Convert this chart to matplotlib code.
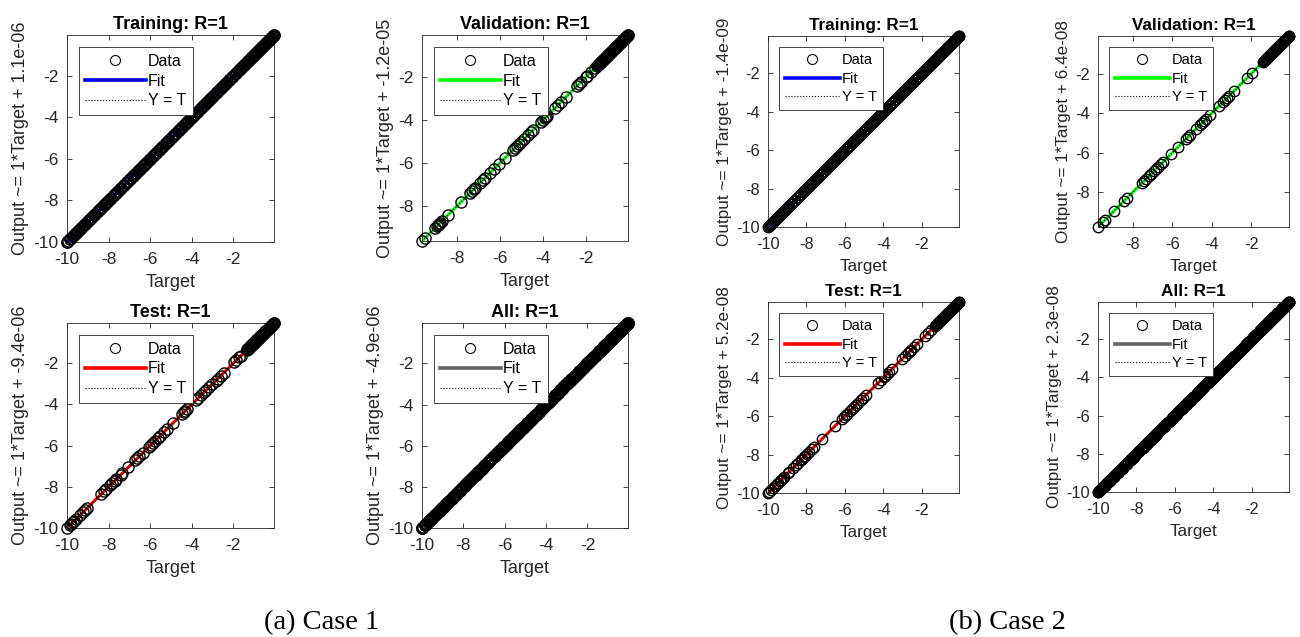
import numpy as np
import matplotlib
matplotlib.use("Agg")
import matplotlib.pyplot as plt
from matplotlib.lines import Line2D
from matplotlib.ticker import MultipleLocator

plt.rcParams['font.family'] = ['Liberation Sans', 'DejaVu Sans']
plt.rcParams['axes.unicode_minus'] = False

# ---------------- Case 1 targets (network outputs equal targets, R = 1) ----------------
train_t1 = [
    -10.00, -9.94, -9.87, -9.80, -9.71, -9.63, -9.57, -9.48, -9.41, -9.36, -9.27, -9.19,
    -9.12, -9.03, -8.96, -8.90, -8.80, -8.72, -8.66, -8.57, -8.48, -8.43, -8.34, -8.24,
    -8.18, -8.11, -8.02, -7.94, -7.88, -7.78, -7.69, -7.63, -7.54, -7.47, -7.41, -7.31,
    -7.24, -7.17, -7.07, -6.99, -6.94, -6.85, -6.76, -6.71, -6.61, -6.52, -6.46, -6.37,
    -6.29, -6.23, -6.14, -6.06, -6.00, -5.91, -5.84, -5.78, -5.68, -5.60, -5.55, -5.44,
    -5.37, -5.31, -5.21, -5.14, -5.08, -4.98, -4.91, -4.85, -4.75, -4.68, -4.62, -4.53,
    -4.45, -4.40, -4.30, -4.22, -4.17, -4.07, -3.99, -3.94, -3.84, -3.76, -3.70, -3.62,
    -3.52, -3.47, -3.39, -3.31, -3.24, -3.16, -3.07, -3.01, -2.92, -2.86, -2.78, -2.69,
    -2.61, -2.55, -2.46, -2.39, -2.32, -2.23, -2.16, -2.09, -2.00, -1.93, -1.87, -1.77,
    -1.70, -1.64, -1.55, -1.47, -1.42, -1.35, -1.28, -1.23, -1.20, -1.17, -1.14, -1.11,
    -1.08, -1.05, -1.02, -0.99, -0.96, -0.93, -0.90, -0.87, -0.84, -0.81, -0.78, -0.75,
    -0.72, -0.69, -0.66, -0.63, -0.60, -0.57, -0.54, -0.51, -0.48, -0.45, -0.42, -0.39,
    -0.36, -0.33, -0.30, -0.27, -0.24, -0.21, -0.18, -0.15, -0.12, -0.09, -0.06, -0.05,
    -9.98, -9.84, -9.67, -9.52, -9.32, -9.15, -8.99, -8.85, -8.69, -8.53, -8.38, -8.21,
    -8.06, -7.91, -7.74, -7.58, -7.44, -7.28, -7.12, -6.96, -6.81, -6.66, -6.49, -6.33,
    -6.18, -6.03, -5.88, -5.73, -5.57, -5.41, -5.25, -5.11, -4.94, -4.79, -4.64, -4.49,
    -4.34, -4.19, -4.03, -3.88, -3.73, -3.57, -3.43, -3.27, -3.12, -2.96, -2.81, -2.65,
    -2.50, -2.35, -2.19, -2.05, -1.90, -1.74, -1.59, -1.45, -1.31,
]
val_t1 = [
    -9.64, -9.52, -9.05, -8.92, -8.88, -8.83, -8.78, -8.72, -8.45, -7.82, -7.38, -7.30,
    -7.22, -7.15, -6.95, -6.82, -6.72, -6.48, -6.28, -6.05, -5.78, -5.42, -5.32, -5.22,
    -5.12, -5.02, -4.88, -4.72, -4.55, -4.45, -4.08, -3.98, -3.92, -3.86, -3.80, -3.42,
    -3.28, -3.18, -2.92, -2.42, -2.32, -2.22, -2.02, -1.95, -1.78, -1.58, -1.48, -1.43,
    -1.40, -1.37, -1.34, -1.31, -1.28, -1.25, -1.22, -1.19, -1.16, -1.13, -1.10, -1.07,
    -1.04, -1.01, -0.98, -0.95, -0.92, -0.89, -0.86, -0.83, -0.80, -0.77, -0.74, -0.71,
    -0.68, -0.65, -0.62, -0.59, -0.56, -0.53, -0.50, -0.47, -0.44, -0.41, -0.38, -0.35,
    -0.32, -0.29, -0.26, -0.23, -0.20, -0.17, -0.14, -0.11, -0.08, -0.05, -0.04,
]
test_t1 = [
    -10.00, -9.86, -9.79, -9.71, -9.64, -9.56, -9.36, -9.21, -9.12, -9.03, -8.36, -8.21,
    -8.12, -7.91, -7.82, -7.71, -7.63, -7.41, -7.34, -7.05, -6.71, -6.62, -6.52, -6.36,
    -6.06, -5.96, -5.86, -5.76, -5.62, -5.52, -5.36, -5.21, -4.92, -4.46, -4.36, -4.31,
    -4.23, -3.81, -3.71, -3.56, -3.42, -3.31, -3.16, -3.02, -2.86, -2.76, -2.61, -2.46,
    -1.96, -1.86, -1.71, -1.64, -1.36, -1.33, -1.30, -1.27, -1.24, -1.21, -1.18, -1.15,
    -1.12, -1.09, -1.06, -1.03, -1.00, -0.97, -0.94, -0.91, -0.88, -0.85, -0.82, -0.79,
    -0.76, -0.73, -0.70, -0.67, -0.64, -0.61, -0.58, -0.55, -0.52, -0.49, -0.46, -0.43,
    -0.40, -0.37, -0.34, -0.31, -0.28, -0.25, -0.22, -0.19, -0.16, -0.13, -0.10, -0.07,
    -0.05,
]

# ---------------- Case 2 targets ----------------
train_t2 = [
    -10.00, -9.92, -9.86, -9.78, -9.70, -9.64, -9.55, -9.47, -9.42, -9.33, -9.25, -9.19,
    -9.10, -9.02, -8.97, -8.88, -8.80, -8.74, -8.65, -8.57, -8.51, -8.42, -8.35, -8.29,
    -8.20, -8.12, -8.06, -7.97, -7.90, -7.84, -7.75, -7.67, -7.61, -7.52, -7.45, -7.39,
    -7.30, -7.22, -7.16, -7.07, -7.00, -6.94, -6.85, -6.77, -6.71, -6.62, -6.55, -6.49,
    -6.40, -6.32, -6.26, -6.17, -6.10, -6.04, -5.95, -5.87, -5.81, -5.72, -5.65, -5.59,
    -5.50, -5.42, -5.36, -5.27, -5.20, -5.14, -5.05, -4.97, -4.91, -4.82, -4.75, -4.69,
    -4.60, -4.52, -4.46, -4.37, -4.30, -4.24, -4.15, -4.07, -4.01, -3.92, -3.85, -3.79,
    -3.70, -3.62, -3.56, -3.47, -3.40, -3.34, -3.25, -3.17, -3.11, -3.02, -2.95, -2.89,
    -2.80, -2.72, -2.66, -2.57, -2.50, -2.44, -2.35, -2.27, -2.21, -2.12, -2.05, -1.99,
    -1.90, -1.82, -1.76, -1.67, -1.60, -1.54, -1.46, -1.41, -1.38, -1.35, -1.32, -1.29,
    -1.26, -1.23, -1.20, -1.17, -1.14, -1.11, -1.08, -1.05, -1.02, -0.99, -0.96, -0.93,
    -0.90, -0.87, -0.84, -0.81, -0.78, -0.75, -0.72, -0.69, -0.66, -0.63, -0.60, -0.57,
    -0.54, -0.51, -0.48, -0.45, -0.42, -0.39, -0.36, -0.33, -0.30, -0.27, -0.24, -0.21,
    -0.18, -0.15, -0.12, -0.09, -0.06, -0.05,
    -9.96, -9.82, -9.67, -9.51, -9.37, -9.22, -9.06, -8.92, -8.77, -8.61, -8.47, -8.32,
    -8.16, -8.01, -7.87, -7.71, -7.56, -7.42, -7.26, -7.11, -6.97, -6.81, -6.66, -6.52,
    -6.36, -6.21, -6.07, -5.91, -5.76, -5.62, -5.46, -5.31, -5.17, -5.01, -4.86, -4.72,
    -4.56, -4.41, -4.27, -4.11, -3.96, -3.82, -3.66, -3.51, -3.37, -3.21, -3.06, -2.92,
    -2.76, -2.61, -2.47, -2.31, -2.16, -2.02, -1.86, -1.71, -1.57, -1.43,
]
val_t2 = [
    -9.75, -9.52, -9.38, -8.95, -8.42, -8.28, -7.55, -7.45, -7.32, -7.18, -7.05, -6.92,
    -6.82, -6.70, -6.58, -6.45, -6.08, -5.72, -5.30, -5.18, -5.10, -4.78, -4.62, -4.50,
    -4.40, -4.28, -4.10, -3.62, -3.45, -3.32, -3.22, -3.12, -2.88, -2.20, -1.95, -1.40,
    -1.37, -1.34, -1.31, -1.28, -1.25, -1.22, -1.19, -1.16, -1.13, -1.10, -1.07, -1.04,
    -1.01, -0.98, -0.95, -0.92, -0.89, -0.86, -0.83, -0.80, -0.77, -0.74, -0.71, -0.68,
    -0.65, -0.62, -0.59, -0.56, -0.53, -0.50, -0.47, -0.44, -0.41, -0.38, -0.35, -0.32,
    -0.29, -0.26, -0.23, -0.20, -0.17, -0.14, -0.11, -0.10,
]
test_t2 = [
    -10.00, -9.93, -9.82, -9.74, -9.66, -9.55, -9.48, -9.40, -9.32, -9.22, -9.15, -8.98,
    -8.88, -8.72, -8.55, -8.42, -8.30, -8.22, -8.15, -8.06, -7.95, -7.84, -7.72, -7.62,
    -7.20, -6.50, -6.12, -6.04, -5.95, -5.86, -5.72, -5.60, -5.50, -5.42, -5.30, -5.18,
    -5.05, -4.92, -4.25, -4.12, -3.98, -3.88, -3.78, -3.68, -3.55, -3.02, -2.88, -2.72,
    -2.62, -2.55, -2.40, -2.25, -1.80, -1.68, -1.52, -1.30, -1.27, -1.24, -1.21, -1.18,
    -1.15, -1.12, -1.09, -1.06, -1.03, -1.00, -0.97, -0.94, -0.91, -0.88, -0.85, -0.82,
    -0.79, -0.76, -0.73, -0.70, -0.67, -0.64, -0.61, -0.58, -0.55, -0.52, -0.49, -0.46,
    -0.43, -0.40, -0.37, -0.34, -0.31, -0.28, -0.25, -0.22, -0.19, -0.16, -0.13, -0.10,
    -0.07, -0.05,
]

# Regression summary shown in each panel
subset_names = ["Training", "Validation", "Test", "All"]
r_values = [1, 1, 1, 1]
slopes = [1, 1, 1, 1]
intercepts_case1 = [1.1e-06, -1.2e-05, -9.4e-06, -4.9e-06]
intercepts_case2 = [-1.4e-09, 6.4e-08, 5.2e-08, 2.3e-08]
fit_colors = ["#0000ff", "#00ff00", "#ff0000", "#666666"]
captions = ["(a) Case 1", "(b) Case 2"]

W, H = 1300, 637
fig = plt.figure(figsize=(W / 100, H / 100), dpi=100)
INK = "#262626"


def px_rect(x0, y0, x1, y1):
    return [x0 / W, 1 - y1 / H, (x1 - x0) / W, (y1 - y0) / H]


def regression_panel(rect, name, r, targets, slope, intercept, color, fs, fs_leg, ms):
    ax = fig.add_axes(rect)
    t = np.asarray(targets, dtype=float)
    y = t.copy()  # network output
    lims = np.array([min(t.min(), y.min()), max(t.max(), y.max())])
    ax.plot(lims, slope * lims + intercept, color=color, lw=2.2, zorder=1)
    ax.plot(lims, lims, color="k", ls=":", lw=0.8, zorder=2)
    ax.plot(t, y, ls="none", marker="o", mfc="none", mec="k", mew=1.0, ms=ms,
            clip_on=False, zorder=3)
    ax.set_xlim(lims)
    ax.set_ylim(lims)
    ax.xaxis.set_major_locator(MultipleLocator(2))
    ax.yaxis.set_major_locator(MultipleLocator(2))
    ax.tick_params(direction="in", top=True, right=True, length=3.5, width=0.6,
                   colors=INK, labelsize=fs - 0.5)
    ax.tick_params(axis="x", pad=7)
    ax.tick_params(axis="y", pad=6)
    for sp in ax.spines.values():
        sp.set_linewidth(0.6)
        sp.set_color(INK)
    ax.set_title(f"{name}: R={r:g}", fontsize=fs, fontweight="bold", color="k", pad=4)
    ax.set_xlabel("Target", fontsize=fs, color=INK, labelpad=5)
    ax.set_ylabel(f"Output ~= {slope:g}*Target + {intercept:.2g}", fontsize=fs,
                  color=INK, labelpad=3)
    handles = [
        Line2D([], [], ls="none", marker="o", mfc="none", mec="k", mew=0.8, ms=7.2),
        Line2D([], [], color=color, lw=2.6),
        Line2D([], [], color="k", ls=":", lw=0.8),
    ]
    leg = ax.legend(handles, ["Data", "Fit", "Y = T"], loc="upper left",
                    bbox_to_anchor=(0.056, 0.94), borderaxespad=0, fontsize=fs_leg,
                    handlelength=3.8, handletextpad=0.15, labelspacing=0.3,
                    borderpad=0.4, fancybox=False, framealpha=1, edgecolor=INK)
    leg.get_frame().set_linewidth(0.6)
    return ax


case1_data = [train_t1, val_t1, test_t1, train_t1 + val_t1 + test_t1]
case2_data = [train_t2, val_t2, test_t2, train_t2 + val_t2 + test_t2]

case1_rects = [px_rect(67, 35, 274, 242), px_rect(422, 35, 628, 241),
               px_rect(67, 323, 274, 528), px_rect(422, 323, 628, 528)]
case2_rects = [px_rect(768, 36, 959, 227), px_rect(1098, 36, 1289, 227),
               px_rect(768, 302, 959, 493), px_rect(1098, 302, 1289, 492)]

for i in range(4):
    regression_panel(case1_rects[i], subset_names[i], r_values[i], case1_data[i],
                     slopes[i], intercepts_case1[i], fit_colors[i], 13, 11.5, 8.0)
    regression_panel(case2_rects[i], subset_names[i], r_values[i], case2_data[i],
                     slopes[i], intercepts_case2[i], fit_colors[i], 12.3, 10.5, 7.5)

fig.text(322 / W, 1 - 623 / H, captions[0], ha="center", va="center",
         fontsize=20.5, family="Liberation Serif", color="k")
fig.text(1007 / W, 1 - 623 / H, captions[1], ha="center", va="center",
         fontsize=20.5, family="Liberation Serif", color="k")

fig.savefig("out.png", dpi=100, facecolor="white")
